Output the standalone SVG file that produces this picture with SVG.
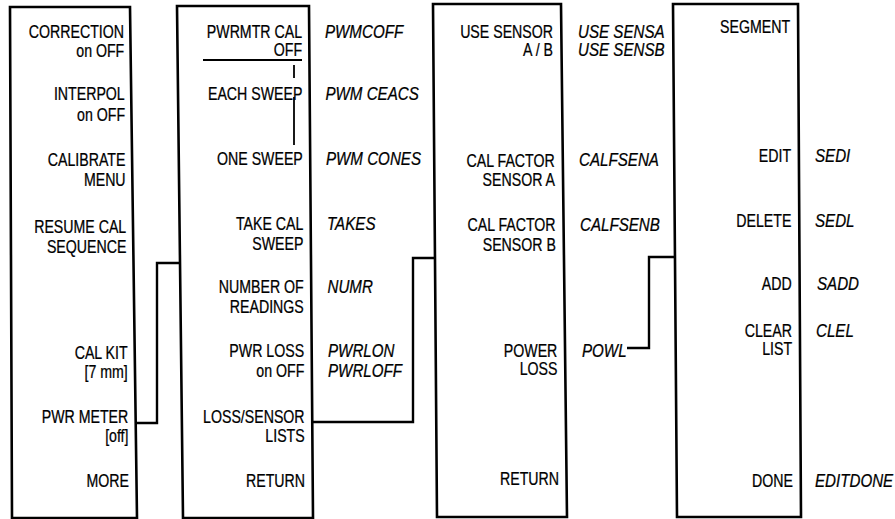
<svg xmlns="http://www.w3.org/2000/svg" width="895" height="519" viewBox="0 0 895 519">
<style>
.panel{fill:none;stroke:#000;stroke-width:2.6;stroke-linejoin:miter}
.conn{fill:none;stroke:#000;stroke-width:2.4}
.thin{fill:none;stroke:#000;stroke-width:1.8}
text{font-family:"Liberation Sans",Arial,sans-serif;font-size:17.5px;fill:#000;stroke:#000;stroke-width:0.25;transform-box:fill-box}
.k{text-anchor:end;transform-origin:100% 50%;transform:scaleX(0.81)}
.m{font-style:italic;transform-origin:0% 50%;transform:scaleX(0.865)}
</style>
<rect width="895" height="519" fill="#fff"/>
<g id="menu-correction">
<polygon class="panel" points="10,7 130,7 137,518 12,518"/>
<text class="k" x="124" y="38">CORRECTION</text>
<text class="k" x="124.2" y="57">on OFF</text>
<text class="k" x="124.7" y="100">INTERPOL</text>
<text class="k" x="125" y="121">on OFF</text>
<text class="k" x="125.4" y="166">CALIBRATE</text>
<text class="k" x="125.6" y="186">MENU</text>
<text class="k" x="126.2" y="233">RESUME CAL</text>
<text class="k" x="126.4" y="253">SEQUENCE</text>
<text class="k" x="127.6" y="359">CAL KIT</text>
<text class="k" x="127.8" y="378">[7 mm]</text>
<text class="k" x="128.3" y="423">PWR METER</text>
<text class="k" x="128.5" y="442">[off]</text>
<text class="k" x="129" y="487">MORE</text>
</g>
<g id="menu-pwrmeter">
<polygon class="panel" points="177,6 309,6 313,518 183,518"/>
<line class="thin" x1="203" y1="60" x2="302" y2="60"/>
<line class="thin" x1="294" y1="65" x2="294" y2="78"/>
<line class="thin" x1="294" y1="97" x2="294" y2="145"/>
<text class="k" x="302" y="38">PWRMTR CAL</text>
<text class="k" x="302" y="56">OFF</text>
<text class="k" x="302.4" y="100">EACH SWEEP</text>
<text class="k" x="302.8" y="165">ONE SWEEP</text>
<text class="k" x="303.3" y="230">TAKE CAL</text>
<text class="k" x="303.4" y="250">SWEEP</text>
<text class="k" x="303.7" y="293">NUMBER OF</text>
<text class="k" x="303.8" y="313">READINGS</text>
<text class="k" x="304.1" y="357">PWR LOSS</text>
<text class="k" x="304.3" y="377">on OFF</text>
<text class="k" x="304.6" y="423">LOSS/SENSOR</text>
<text class="k" x="304.7" y="442">LISTS</text>
<text class="k" x="305" y="487">RETURN</text>
<text class="m" x="325" y="38">PWMCOFF</text>
<text class="m" x="325.5" y="100">PWM CEACS</text>
<text class="m" x="326" y="165">PWM CONES</text>
<text class="m" x="327" y="230">TAKES</text>
<text class="m" x="327.5" y="293">NUMR</text>
<text class="m" x="328" y="357">PWRLON</text>
<text class="m" x="328" y="377">PWRLOFF</text>
</g>
<g id="menu-loss-sensor">
<polygon class="panel" points="433,4 561,4 567,517 437,517"/>
<text class="k" x="553" y="38">USE SENSOR</text>
<text class="k" x="553" y="56">A / B</text>
<text class="k" x="554.7" y="167">CAL FACTOR</text>
<text class="k" x="554.9" y="186">SENSOR A</text>
<text class="k" x="555.6" y="231">CAL FACTOR</text>
<text class="k" x="555.9" y="251">SENSOR B</text>
<text class="k" x="557.3" y="357">POWER</text>
<text class="k" x="557.5" y="375">LOSS</text>
<text class="k" x="559" y="485">RETURN</text>
<text class="m" x="578" y="38">USE SENSA</text>
<text class="m" x="578" y="56">USE SENSB</text>
<text class="m" x="579" y="166">CALFSENA</text>
<text class="m" x="580" y="231">CALFSENB</text>
<text class="m" x="582" y="357">POWL</text>
</g>
<g id="menu-segment">
<polygon class="panel" points="673,4 798,4 801,517 677,517"/>
<text class="k" x="790" y="33">SEGMENT</text>
<text class="k" x="791" y="162">EDIT</text>
<text class="k" x="791.4" y="227">DELETE</text>
<text class="k" x="791.7" y="290">ADD</text>
<text class="k" x="792" y="337">CLEAR</text>
<text class="k" x="792" y="355">LIST</text>
<text class="k" x="793" y="487">DONE</text>
<text class="m" x="815" y="162">SEDI</text>
<text class="m" x="815" y="227">SEDL</text>
<text class="m" x="817" y="290">SADD</text>
<text class="m" x="816" y="337">CLEL</text>
<text class="m" x="815" y="487">EDITDONE</text>
</g>
<g id="connectors">
<polyline class="conn" points="136,423 157,423 157,263 181,263"/>
<polyline class="conn" points="312,422 413,422 413,258 436,258"/>
<polyline class="conn" points="627,348 649,348 649,257 675,257"/>
</g>
</svg>
